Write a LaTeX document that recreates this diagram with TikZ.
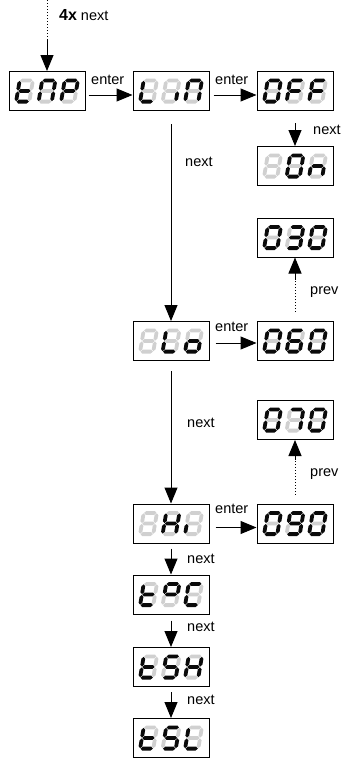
\documentclass[tikz,border=0pt]{standalone}
\usepackage{fontspec}
\setmainfont{Liberation Sans}
\usetikzlibrary{arrows.meta}
\definecolor{segon}{HTML}{0A0A0A}
\definecolor{segoff}{HTML}{D0D0D0}
\makeatletter
\def\sgt{1.9}\def\sgp{0.45}
\newcommand\segH[5]{\in@{#1}{#2}\ifin@\def\segc{segon}\else\def\segc{segoff}\fi
 \fill[\segc] ({#3+\sgp},{#5}) -- ({#3+\sgp+\sgt},{#5-\sgt}) -- ({#4-\sgp-\sgt},{#5-\sgt}) -- ({#4-\sgp},{#5}) -- ({#4-\sgp-\sgt},{#5+\sgt}) -- ({#3+\sgp+\sgt},{#5+\sgt}) -- cycle;}
\newcommand\segV[5]{\in@{#1}{#2}\ifin@\def\segc{segon}\else\def\segc{segoff}\fi
 \fill[\segc] ({#3},{#4+\sgp}) -- ({#3+\sgt},{#4+\sgp+\sgt}) -- ({#3+\sgt},{#5-\sgp-\sgt}) -- ({#3},{#5-\sgp}) -- ({#3-\sgt},{#5-\sgp-\sgt}) -- ({#3-\sgt},{#4+\sgp+\sgt}) -- cycle;}
\makeatother
\newcommand\dg[3]{\begin{scope}[shift={({#1},{#2})},xslant=0.17]
 \segH{a}{#3}{-6.6}{6.6}{-10.6}
 \segH{g}{#3}{-6.6}{6.6}{0}
 \segH{d}{#3}{-6.6}{6.6}{10.6}
 \segV{f}{#3}{-6.6}{-10.6}{0}
 \segV{b}{#3}{6.6}{-10.6}{0}
 \segV{e}{#3}{-6.6}{0}{10.6}
 \segV{c}{#3}{6.6}{0}{10.6}
\end{scope}}
\newcommand\disp[6]{\node[dbox] (#1) at (#2,#3) {};
 \dg{#2-22.5}{#3}{#4}\dg{#2}{#3}{#5}\dg{#2+22.5}{#3}{#6}}
\tikzset{
 dbox/.style={draw, line width=1pt, minimum width=76pt, minimum height=39pt, inner sep=0pt, fill=white},
 arr/.style={line width=1pt, -{Triangle[length=16pt,width=13pt]}},
 dots/.style={line width=0.9pt, dash pattern=on 0.8pt off 2.2pt},
 lbl/.style={inner sep=0pt, anchor=base west, font=\fontsize{14.5}{16}\selectfont}
}
\begin{document}
\begin{tikzpicture}[x=1pt,y=-1pt]
\useasboundingbox (0,0) rectangle (349,763);
% displays
\disp{tmp}{47}{91}{defg}{abcef}{abefg}
\disp{lin}{171}{91}{def}{c}{abcef}
\disp{off}{295}{91}{abcdef}{aefg}{aefg}
\disp{on}{295}{166}{}{abcdef}{ceg}
\disp{v030}{295}{237.5}{abcdef}{abcdg}{abcdef}
\disp{lo}{171}{341}{}{def}{cdeg}
\disp{v060}{295}{341}{abcdef}{acdefg}{abcdef}
\disp{v070}{295}{420}{abcdef}{abc}{abcdef}
\disp{hi}{171}{523.5}{}{bcefg}{e}
\disp{v090}{295}{523.5}{abcdef}{abcdfg}{abcdef}
\disp{tpc}{171}{594.5}{defg}{abfg}{adef}
\disp{tsh}{171}{667}{defg}{acdfg}{bcefg}
\disp{tsl}{171}{738}{defg}{acdfg}{def}
% entry arrow
\coordinate (top) at (47,0);
\coordinate (topm) at (47,40);
\draw[dots] (top) -- (topm);
\draw[arr] (topm) -- (tmp.north);
\node[lbl, anchor=base west] (l4x) at (59,20) {\fontsize{16}{18}\selectfont\bfseries 4x\hspace{0.25em}\fontsize{14.5}{16}\mdseries next};
% enter arrows
\draw[arr, shorten <=3pt] ([yshift=-4pt]tmp.east) -- ([yshift=-4pt]lin.west);
\node[lbl] (le1) at (91,84) {enter};
\draw[arr, shorten <=4pt] ([yshift=-4pt]lin.east) -- ([yshift=-4pt]off.west);
\node[lbl] (le2) at (215,84) {enter};
\draw[arr, shorten <=6pt] ([yshift=-2pt]lo.east) -- ([yshift=-2pt]v060.west);
\node[lbl] (le3) at (215,331) {enter};
\draw[arr, shorten <=6pt] ([yshift=-4pt]hi.east) -- ([yshift=-4pt]v090.west);
\node[lbl] (le4) at (215,513) {enter};
% next arrows
\draw[arr, shorten <=12pt] (off.south) -- (on.north);
\node[lbl] (ln1) at (313,134) {next};
\draw[arr, shorten <=13pt] (lin.south) -- (lo.north);
\node[lbl] (ln2) at (185,166) {next};
\draw[arr, shorten <=10pt] (lo.south) -- (hi.north);
\node[lbl] (ln3) at (187,427) {next};
\draw[arr, shorten <=5pt] (hi.south) -- (tpc.north);
\node[lbl] (ln4) at (187,563) {next};
\draw[arr, shorten <=6pt] (tpc.south) -- (tsh.north);
\node[lbl] (ln5) at (187,631) {next};
\draw[arr, shorten <=5pt] (tsh.south) -- (tsl.north);
\node[lbl] (ln6) at (187,704) {next};
% prev arrows
\coordinate (p1a) at ([yshift=9pt]v060.north);
\coordinate (p1b) at ([yshift=-22pt]v030.south);
\draw[dots] (p1a) -- (p1b);
\draw[arr] (p1b) -- (v030.south);
\node[lbl] (lp1) at (310,294) {prev};
\coordinate (p2a) at ([yshift=9pt]v090.north);
\coordinate (p2b) at ([yshift=-20pt]v070.south);
\draw[dots] (p2a) -- (p2b);
\draw[arr] (p2b) -- (v070.south);
\node[lbl] (lp2) at (310,476) {prev};
\end{tikzpicture}
\end{document}
